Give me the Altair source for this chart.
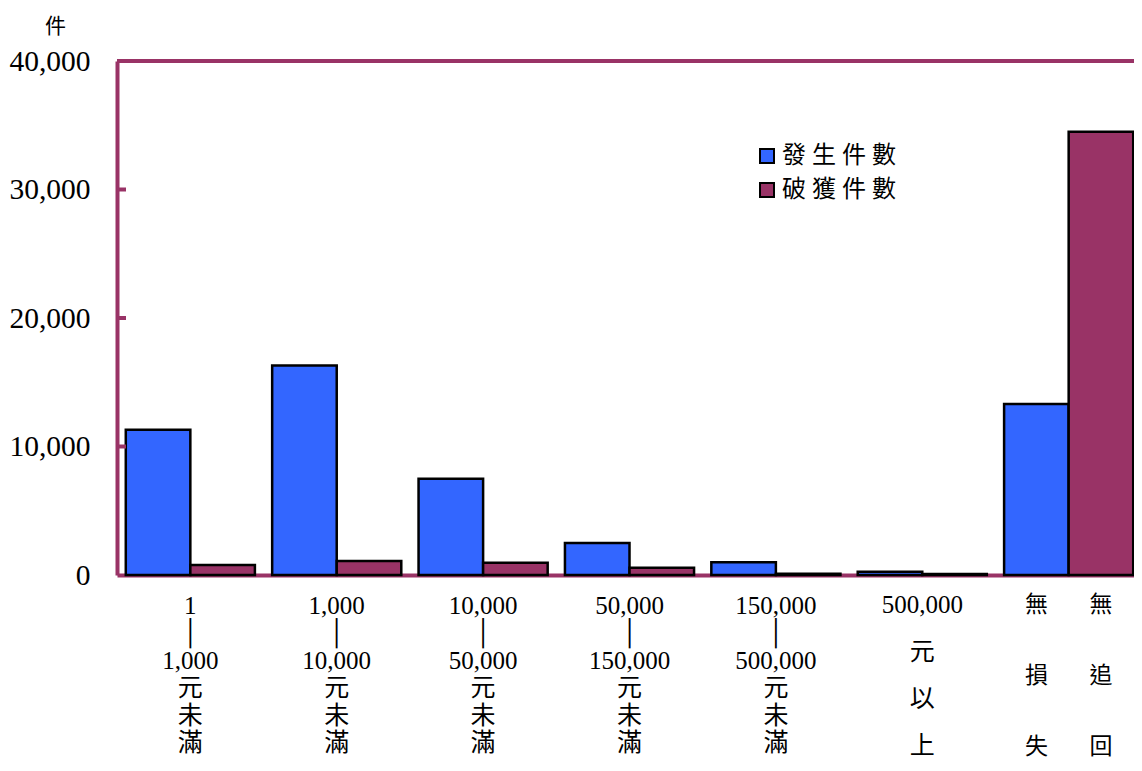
import altair as alt
import pandas as pd

FONT = "Liberation Serif, Noto Sans CJK TC"
MAROON = "#993366"

series = ["發生件數", "破獲件數"]
colors = ["#3366FF", "#993366"]
occurred = [11300, 16300, 7500, 2500, 1000, 250, 13300]
solved = [780, 1090, 960, 570, 100, 80, 34500]

# tick labels (one line per entry)
range_lines = [
    ["1", "│", "1,000", "元", "未", "滿"],
    ["1,000", "│", "10,000", "元", "未", "滿"],
    ["10,000", "│", "50,000", "元", "未", "滿"],
    ["50,000", "│", "150,000", "元", "未", "滿"],
    ["150,000", "│", "500,000", "元", "未", "滿"],
]
over_key = "500,000元以上"
over_lines = ["500,000", "元", "以", "上"]
last_key = "無損失／無追回"
last_lines = [["無", "損", "失"], ["無", "追", "回"]]

y_ticks = [0, 10000, 20000, 30000, 40000]
inner_ticks = [10000, 20000, 30000]

cat_keys = ["\n".join(g) for g in range_lines] + [over_key, last_key]

rows = []
for i, k in enumerate(cat_keys):
    rows.append({"category": k, "series": series[0], "value": occurred[i]})
    rows.append({"category": k, "series": series[1], "value": solved[i]})
df = pd.DataFrame(rows)

over_df = pd.DataFrame({"category": [over_key], "txt": ["\n".join(over_lines)]})
last_df = pd.DataFrame({
    "category": [last_key, last_key],
    "series": series,
    "txt": ["\n".join(l) for l in last_lines],
})

x_scale = alt.Scale(domain=cat_keys, range=[0, 1025], paddingInner=0.118, paddingOuter=0.06)
xo_scale = alt.Scale(domain=series, paddingInner=0, paddingOuter=0)
y_scale = alt.Scale(domain=[0, 40000], nice=False)

LABEL_PAD = 18
x_axis = alt.Axis(
    title=None,
    labelExpr="indexof(datum.value, '│') >= 0 ? split(datum.value, '\\n') : ''",
    labelFont=FONT, labelFontSize=25, labelLineHeight=27.5, labelPadding=LABEL_PAD,
    labelAngle=0, labelColor="black", labelLimit=0,
    ticks=False, tickSize=0, domainColor=MAROON, domainWidth=4,
)
y_axis = alt.Axis(
    title="件", titleAngle=0, titleX=-62, titleY=-35, titleAlign="center",
    titleBaseline="middle", titleFont=FONT, titleFontSize=21, titleFontWeight="normal",
    titleColor="black",
    values=y_ticks, format=",.0f", labelFont=FONT, labelFontSize=29.5, labelPadding=27,
    labelColor="black", labelFlush=False, labelOverlap=False,
    ticks=False, tickSize=0, grid=False, domainColor=MAROON, domainWidth=4,
)

bars = alt.Chart(df).mark_bar(stroke="black", strokeWidth=2.5).encode(
    x=alt.X("category:N", sort=cat_keys, scale=x_scale, axis=x_axis),
    xOffset=alt.XOffset("series:N", sort=series, scale=xo_scale),
    y=alt.Y("value:Q", scale=y_scale, axis=y_axis),
    color=alt.Color(
        "series:N", sort=series,
        scale=alt.Scale(domain=series, range=colors),
        legend=alt.Legend(
            orient="none", legendX=638, legendY=83, title=None,
            symbolType="square", symbolSize=196, symbolStrokeColor="black",
            symbolStrokeWidth=2, symbolOpacity=1,
            labelFont=FONT, labelFontSize=24, labelOffset=3, rowPadding=10,
            padding=0, labelColor="black",
            labelExpr="join(split(datum.label, ''), ' ')",
        ),
    ),
)

over_text = alt.Chart(over_df).transform_calculate(
    lines="split(datum.txt, '\\n')"
).mark_text(
    font=FONT, fontSize=25, lineHeight=47, baseline="top", align="center", color="black"
).encode(
    x=alt.X("category:N", sort=cat_keys, scale=x_scale, axis=x_axis),
    y=alt.value(514 + LABEL_PAD),
    text=alt.Text("lines:N"),
)

last_text = alt.Chart(last_df).transform_calculate(
    lines="split(datum.txt, '\\n')"
).mark_text(
    font=FONT, fontSize=23, lineHeight=71, baseline="top", align="center", color="black"
).encode(
    x=alt.X("category:N", sort=cat_keys, scale=x_scale, axis=x_axis),
    xOffset=alt.XOffset("series:N", sort=series, scale=xo_scale),
    y=alt.value(514 + LABEL_PAD + 1),
    text=alt.Text("lines:N"),
)

top_rule = alt.Chart(pd.DataFrame({"v": [40000]})).mark_rule(
    color=MAROON, strokeWidth=4
).encode(
    y=alt.Y("v:Q", scale=y_scale, axis=y_axis),
    x=alt.value(0), x2=alt.value(1040),
)

tick_rules = alt.Chart(pd.DataFrame({"v": inner_ticks})).mark_rule(
    color=MAROON, strokeWidth=4
).encode(
    y=alt.Y("v:Q", scale=y_scale, axis=y_axis),
    x=alt.value(0), x2=alt.value(9),
)

chart = alt.layer(bars, over_text, last_text, top_rule, tick_rules).properties(
    width=1017, height=514,
    autosize=alt.AutoSizeParams(type="none"),
    padding={"left": 109, "top": 53, "right": 0, "bottom": 188},
).configure_view(stroke=None).configure(background="white")

chart.save("out.html", embed_options={"renderer": "svg", "actions": False})
